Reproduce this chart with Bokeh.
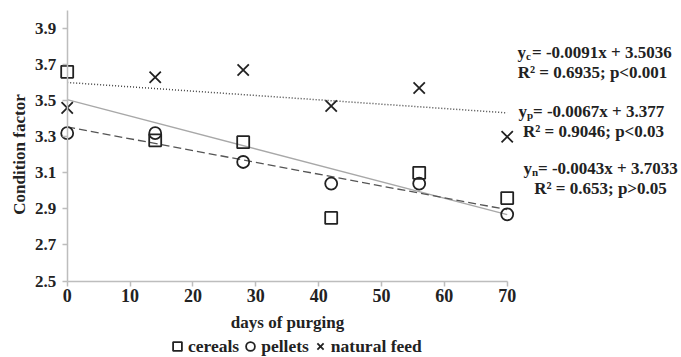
import math
import numpy as np
from bokeh.plotting import figure
from bokeh.models import Range1d, FixedTicker, Label, Legend, LegendItem
from bokeh.embed import file_html
from bokeh.resources import INLINE

days = [0, 14, 28, 42, 56, 70]
cereals = [3.66, 3.28, 3.27, 2.85, 3.10, 2.96]
pellets = [3.32, 3.32, 3.16, 3.04, 3.04, 2.87]
natural = [3.46, 3.63, 3.67, 3.47, 3.57, 3.30]
y_ticks = [2.5, 2.7, 2.9, 3.1, 3.3, 3.5, 3.7, 3.9]
x_ticks = [0, 10, 20, 30, 40, 50, 60, 70]
eq_lines = [
    ("y", "c", "= -0.0091x + 3.5036", "R\u00b2 = 0.6935; p<0.001"),
    ("y", "p", " = -0.0067x + 3.377", "R\u00b2 = 0.9046; p<0.03"),
    ("y", "n", " = -0.0043x + 3.7033", "R\u00b2 = 0.653; p>0.05"),
]

FONT = "Liberation Serif"
INK = "#222222"
AXIS = "#bdbdbd"

W, H = 681, 357
PX0, PY0 = 66.7, 280.5    # pixel position of (0, 2.5)
SX = 440 / 70.0           # px per day
SY = 270.5 / 1.5          # px per unit of condition factor

def dx(px):
    return (px - PX0) / SX

def dy(py):
    return 2.5 + (PY0 - py) / SY

p = figure(width=W, height=H, output_backend="svg", toolbar_location=None,
           x_range=Range1d(dx(0), dx(W)), y_range=Range1d(dy(H), dy(0)),
           min_border_left=0, min_border_right=0, min_border_top=0,
           min_border_bottom=0)
p.frame_width = W
p.frame_height = H
p.outline_line_color = None
p.xgrid.visible = False
p.ygrid.visible = False

for ax in (p.xaxis[0], p.yaxis[0]):
    ax.axis_line_color = AXIS
    ax.axis_line_width = 1.5
    ax.major_tick_line_color = AXIS
    ax.major_tick_line_width = 1.5
    ax.major_tick_in = 0
    ax.major_tick_out = 5
    ax.minor_tick_line_color = None
    ax.major_label_text_font = FONT
    ax.major_label_text_font_style = "bold"
    ax.major_label_text_color = INK

p.xaxis.fixed_location = 2.5
p.xaxis.bounds = (0, 70)
p.xaxis.ticker = FixedTicker(ticks=x_ticks)
p.xaxis.major_label_text_font_size = "18px"
p.xaxis.major_label_standoff = 3

p.yaxis.fixed_location = 0
p.yaxis.bounds = (2.5, 4.0)
p.yaxis.ticker = FixedTicker(ticks=y_ticks)
p.yaxis.major_label_standoff = 6
p.yaxis.major_label_text_font_size = "17px"

common = dict(text_font=FONT, text_font_style="bold", text_color=INK)

# axis titles
p.add_layout(Label(x=dx(287), y=dy(322), text="days of purging", text_font_size="17px",
                   text_align="center", text_baseline="middle", **common))
p.add_layout(Label(x=dx(19), y=dy(154), text="Condition factor", text_font_size="17px",
                   angle=math.pi / 2, text_align="center", text_baseline="middle", **common))

# trend lines (least squares fits of the data)
xs = np.array([days[0], days[-1]], dtype=float)
fc = np.polyfit(days, cereals, 1)
fp = np.polyfit(days, pellets, 1)
fn = np.polyfit(days, natural, 1)
p.line(xs, np.polyval(fc, xs), line_color="#a8a8a8", line_width=1.3)
p.line(xs, np.polyval(fp, xs), line_color="#555555", line_width=1.3, line_dash="8 4")
p.line(xs, np.polyval(fn, xs), line_color="#444444", line_width=1.5, line_dash="1 2")

r_c = p.scatter(days, cereals, marker="square", size=12, fill_color=None,
                line_color=INK, line_width=1.8)
r_p = p.scatter(days, pellets, marker="circle", size=12, fill_color=None,
                line_color=INK, line_width=1.8)
r_n = p.scatter(days, natural, marker="x", size=16, line_color=INK, line_width=1.8)

legend = Legend(items=[LegendItem(label="cereals", renderers=[r_c]),
                       LegendItem(label="pellets", renderers=[r_p]),
                       LegendItem(label="natural feed", renderers=[r_n])],
                orientation="horizontal", location=(166, 0),
                label_text_font=FONT, label_text_font_style="bold",
                label_text_font_size="17.5px", label_text_color=INK,
                label_height=18, glyph_width=22, glyph_height=22, spacing=-2,
                label_standoff=-5, padding=0, margin=0, border_line_color=None,
                background_fill_alpha=0)
p.add_layout(legend, "center")

eq_y = [52, 111, 168]
r2_y = [72, 131, 188]
eq_x = [517, 518, 523]
r2_x = [592, 593, 600]
for (base, sub, rest, r2), ey, ry, ex, rx in zip(eq_lines, eq_y, r2_y, eq_x, r2_x):
    c = dict(common, text_baseline="alphabetic")
    p.add_layout(Label(x=dx(ex), y=dy(ey), text=base, text_font_size="17px",
                       text_align="left", **c))
    p.add_layout(Label(x=dx(ex + 8.5), y=dy(ey + 3), text=sub, text_font_size="11px",
                       text_align="left", **c))
    p.add_layout(Label(x=dx(ex + 14.5), y=dy(ey), text=rest, text_font_size="17px",
                       text_align="left", **c))
    p.add_layout(Label(x=dx(rx), y=dy(ry), text=r2, text_font_size="17px",
                       text_align="center", **c))

open("out.html", "w").write(file_html(p, INLINE))
